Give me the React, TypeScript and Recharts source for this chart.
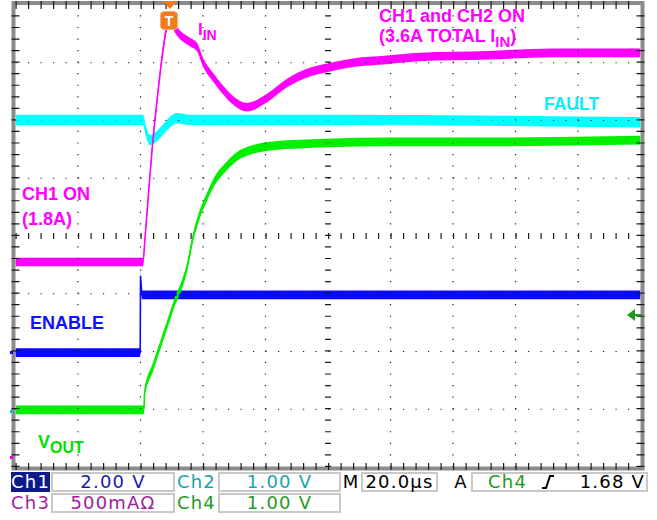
import { Area, ComposedChart, Line, ReferenceLine, XAxis, YAxis } from "recharts";

// Scope capture: time in µs (20 µs/div), levels in screen divisions (0 = bottom graticule).
const TIME_TICKS = [0, 20, 40, 60, 80, 100, 120, 140, 160, 180, 200];
const DIV_TICKS = [0, 1, 2, 3, 4, 5, 6, 7, 8];

const enableT = [0, 39.9, 40.0, 40.4, 200];
const enableV = [1.98, 1.98, 3.31, 2.98, 2.98];

const faultT = [0, 40.8, 41.8, 43.0, 44.6, 47.2, 49.4, 51.7, 55.8, 99.7, 200];
const faultV = [6.01, 6.01, 5.8, 5.66, 5.7, 5.84, 5.97, 6.04, 6.01, 6.01, 5.97];

const voutT = [0, 41.1, 41.3, 44.0, 47.2, 50.4, 54.9, 56.8, 59.0, 61.3, 63.2, 67.7, 70.9, 76.0, 82.4, 91.0, 99.7, 118.9, 150.9, 200];
const voutV = [0.99, 0.99, 1.28, 1.73, 2.25, 2.77, 3.46, 3.97, 4.38, 4.68, 4.9, 5.22, 5.38, 5.5, 5.56, 5.59, 5.61, 5.63, 5.63, 5.66];

const iinT = [0, 40.8, 41.4, 42.4, 43.7, 45.3, 47.2, 48.8, 49.4, 51.0, 53.3, 55.8, 58.1, 60.0, 63.2, 66.4, 69.6, 74.1, 80.5, 86.9, 93.3, 99.7, 108.0, 118.9, 129.4, 150.9, 172.0, 200];
const iinV = [3.55, 3.55, 3.93, 4.62, 5.49, 6.35, 7.22, 7.71, 7.77, 7.6, 7.45, 7.36, 7.27, 7.01, 6.75, 6.53, 6.35, 6.23, 6.39, 6.65, 6.82, 6.91, 7.0, 7.05, 7.1, 7.13, 7.17, 7.17];

type Trace = {
  key: string;
  color: string;
  half: number;
  curve: "linear" | "monotone";
  t: number[];
  v: number[];
};

// draw order: last one ends up on top
const TRACES: Trace[] = [
  { key: "enable", color: "#0a0aff", half: 0.075, curve: "linear", t: enableT, v: enableV },
  { key: "fault", color: "#00ffff", half: 0.09, curve: "monotone", t: faultT, v: faultV },
  { key: "vout", color: "#00f000", half: 0.075, curve: "monotone", t: voutT, v: voutV },
  { key: "iin", color: "#ff00ff", half: 0.075, curve: "monotone", t: iinT, v: iinV },
];

function rowsOf(s: Trace) {
  return s.t.map((t, i) => ({ t, v: s.v[i], band: [s.v[i] - s.half, s.v[i] + s.half] }));
}

const axisRows = TIME_TICKS.map((t) => ({ t }));

const GRID = "#1a1a1a";
// dots every 1/5 division along each graticule line
const H_DOTS = "1.2 11.3";
const V_DOTS = "1.2 10.35";
const LABEL_FONT = "'Liberation Sans', Arial, sans-serif";
const STATUS_FONT = "'DejaVu Sans', sans-serif";

function Cell({
  left,
  top,
  width,
  color,
  text,
  boxed,
  bg,
}: {
  left: number;
  top: number;
  width: number;
  color: string;
  text: string;
  boxed?: boolean;
  bg?: string;
}) {
  return (
    <div
      style={{
        position: "absolute",
        left,
        top,
        width,
        height: 20,
        boxSizing: "border-box",
        border: boxed ? "2px solid #c8c8c8" : "none",
        background: bg ?? "transparent",
        color,
        fontFamily: STATUS_FONT,
        fontSize: 18,
        letterSpacing: 1.2,
        lineHeight: boxed ? "16px" : "20px",
        textAlign: "center",
        whiteSpace: "nowrap",
      }}
    >
      {text}
    </div>
  );
}

export default function App() {
  return (
    <div
      style={{
        position: "fixed",
        left: 0,
        top: 0,
        width: 657,
        height: 520,
        background: "#fff",
        overflow: "hidden",
      }}
    >
      {/* graticule frame */}
      <svg width={657} height={520} style={{ position: "absolute", left: 0, top: 0 }}>
        <rect x={13.5} y={3} width={629} height={465.5} fill="none" stroke="#8c8c8c" strokeWidth={4} />
      </svg>

      <div style={{ position: "absolute", left: 0, top: 0 }}>
        <ComposedChart
          width={657}
          height={470}
          data={axisRows}
          margin={{ top: 5, right: 16.5, bottom: 3, left: 15.5 }}
        >
          <XAxis
            type="number"
            dataKey="t"
            domain={[0, 200]}
            ticks={TIME_TICKS}
            height={0}
            tick={false}
            axisLine={false}
            tickLine={false}
            allowDataOverflow
          />
          <YAxis
            type="number"
            domain={[0, 8]}
            ticks={DIV_TICKS}
            width={0}
            tick={false}
            axisLine={false}
            tickLine={false}
            allowDataOverflow
          />
          {TIME_TICKS.map((t) => {
            const edge = t === 0 || t === 200;
            const center = t === 100;
            return (
              <ReferenceLine
                key={`vx-${t}`}
                x={t}
                stroke={GRID}
                strokeWidth={edge ? 8 : center ? 6 : 1.2}
                strokeDasharray={V_DOTS}
                ifOverflow="visible"
              />
            );
          })}
          {DIV_TICKS.map((d) => {
            const edge = d === 0 || d === 8;
            const center = d === 4;
            return (
              <ReferenceLine
                key={`hy-${d}`}
                y={d}
                stroke={GRID}
                strokeWidth={edge ? 8 : center ? 6 : 1.2}
                strokeDasharray={H_DOTS}
                ifOverflow="visible"
              />
            );
          })}
          {TRACES.flatMap((s) => {
            const data = rowsOf(s);
            return [
              <Area
                key={`${s.key}-band`}
                data={data}
                type={s.curve}
                dataKey="band"
                stroke="none"
                fill={s.color}
                fillOpacity={1}
                dot={false}
                activeDot={false}
                isAnimationActive={false}
              />,
              <Line
                key={`${s.key}-line`}
                data={data}
                type={s.curve}
                dataKey="v"
                stroke={s.color}
                strokeWidth={1.6}
                dot={false}
                activeDot={false}
                isAnimationActive={false}
              />,
            ];
          })}
        </ComposedChart>
      </div>

      {/* annotations */}
      <svg
        width={657}
        height={520}
        style={{ position: "absolute", left: 0, top: 0, pointerEvents: "none" }}
        fontFamily={LABEL_FONT}
        fontWeight="bold"
      >
        <polygon points="163,1 177,1 170,9" fill="#f47a20" />
        <rect x={160.5} y={11.5} width={17} height={18} rx={3.5} fill="#f47a20" stroke="#fbb070" strokeWidth={1} />
        <text x={169} y={26} fontSize={14} fill="#fff" textAnchor="middle">
          T
        </text>

        <text x={198} y={35} fontSize={17} fill="#ff00ff">
          I<tspan fontSize={14} dy={5}>IN</tspan>
        </text>
        <text x={379} y={22} fontSize={18} fill="#ff00ff">
          CH1 and CH2 ON
        </text>
        <text x={379} y={42} fontSize={18} fill="#ff00ff">
          (3.6A TOTAL I<tspan fontSize={15} dy={5}>IN</tspan>
          <tspan dy={-5}>)</tspan>
        </text>
        <text x={544} y={110} fontSize={17.5} fill="#00f0ff">
          FAULT
        </text>
        <text x={22} y={200} fontSize={18} fill="#ff00ff">
          CH1 ON
        </text>
        <text x={22} y={225} fontSize={18} fill="#ff00ff">
          (1.8A)
        </text>
        <text x={30} y={329} fontSize={18} fill="#1010ff">
          ENABLE
        </text>
        <text x={38} y={448} fontSize={18} fill="#00e000">
          V<tspan fontSize={16} dy={5}>OUT</tspan>
        </text>

        <polygon points="627,315 635,309 635,321" fill="#1f9a1f" />
        <line x1={634} y1={315} x2={642} y2={315} stroke="#1f9a1f" strokeWidth={2} />

        <rect x={10} y={351} width={3} height={3} fill="#0a0aff" />
        <rect x={10} y={410} width={3} height={3} fill="#00c8c8" />
        <rect x={10} y={456} width={3} height={3} fill="#e000e0" />
      </svg>

      {/* status bar */}
      <Cell left={11} top={472} width={39} color="#fff" bg="#0c1a8a" text="Ch1" />
      <Cell left={51} top={472} width={124} color="#1c1ca8" text="2.00 V" boxed />
      <Cell left={176} top={472} width={41} color="#18a4ac" text="Ch2" />
      <Cell left={218} top={472} width={123} color="#18a4ac" text="1.00 V" boxed />
      <Cell left={342} top={472} width={18} color="#000" text="M" />
      <Cell left={361} top={472} width={77} color="#000" text="20.0µs" boxed />
      <Cell left={452} top={472} width={18} color="#000" text="A" />
      <div
        style={{
          position: "absolute",
          left: 471,
          top: 472,
          width: 177,
          height: 20,
          boxSizing: "border-box",
          border: "2px solid #c8c8c8",
          fontFamily: STATUS_FONT,
          fontSize: 18,
          letterSpacing: 1.2,
          lineHeight: "16px",
          whiteSpace: "nowrap",
        }}
      >
        <span style={{ position: "absolute", left: 15, color: "#1e9a1e" }}>Ch4</span>
        <svg width={14} height={16} style={{ position: "absolute", left: 68, top: 0 }}>
          <path d="M1 14 L5 14 L9 2 L13 2" fill="none" stroke="#000" strokeWidth={2} />
        </svg>
        <span style={{ position: "absolute", right: 1, color: "#000" }}>1.68 V</span>
      </div>

      <Cell left={11} top={493} width={39} color="#a020a0" text="Ch3" />
      <Cell left={51} top={493} width={124} color="#a020a0" text="500mAΩ" boxed />
      <Cell left={176} top={493} width={41} color="#1e9a1e" text="Ch4" />
      <Cell left={218} top={493} width={123} color="#1e9a1e" text="1.00 V" boxed />
    </div>
  );
}
